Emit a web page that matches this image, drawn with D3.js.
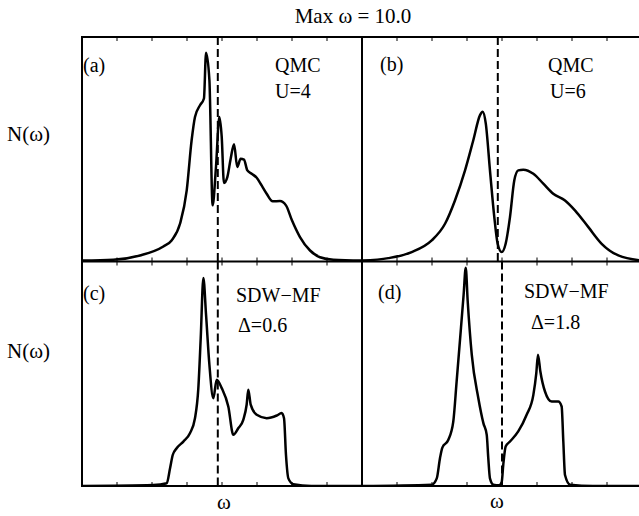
<!DOCTYPE html>
<html><head><meta charset="utf-8">
<script src="https://cdn.jsdelivr.net/npm/d3@7"></script>
<style>body{margin:0;background:#fff}</style>
</head><body><svg id="c" width="639" height="516"></svg>
<script>
// ---- data (ω in units, N normalised to panel height) ----
const wA=[-10,-7.76,-5.86,-4.19,-3.6,-3.0,-2.52,-2.17,-1.93,-1.57,-1.29,-1.14,-0.9,-0.67,-0.43,-0.19,-0.02,0.14,0.38,0.62,0.86,1.09,1.33,1.57,1.81,2.12,2.48,2.83,3.19,3.62,4.14,4.57,4.98,5.57,6.29,7.0,7.95,10];
const nA=[0.004,0.008,0.027,0.067,0.094,0.168,0.317,0.54,0.644,0.696,0.726,0.93,0.808,0.25,0.421,0.644,0.555,0.35,0.376,0.458,0.522,0.421,0.458,0.454,0.406,0.391,0.373,0.339,0.302,0.268,0.269,0.25,0.186,0.109,0.049,0.019,0.008,0.004];
const wB=[-10,-8.12,-6.45,-5.02,-4.07,-3.36,-2.64,-2.05,-1.57,-1.38,-1.16,-0.86,-0.55,-0.31,-0.02,0.26,0.57,0.88,1.16,1.52,2.24,2.95,3.66,4.5,5.21,6.17,7.12,8.31,10];
const nB=[0.004,0.015,0.042,0.094,0.168,0.272,0.406,0.54,0.652,0.667,0.615,0.406,0.198,0.079,0.042,0.079,0.198,0.362,0.406,0.409,0.391,0.347,0.302,0.272,0.228,0.153,0.079,0.027,0.004];
const wC=[-10,-4.91,-3.95,-3.71,-3.52,-3.24,-2.76,-2.29,-1.93,-1.69,-1.52,-1.33,-1.14,-0.9,-0.62,-0.38,-0.02,0.45,0.81,1.16,1.52,1.76,1.88,2.05,2.48,3.19,3.91,4.26,4.43,4.57,4.74,5.09,6.38,10];
const nC=[0,0.004,0.012,0.079,0.138,0.168,0.198,0.235,0.302,0.436,0.659,0.927,0.763,0.54,0.391,0.473,0.436,0.354,0.228,0.257,0.295,0.362,0.429,0.362,0.317,0.302,0.314,0.325,0.302,0.138,0.034,0.008,0,0];
const wD=[-10,-5.02,-4.66,-4.43,-4.26,-3.84,-3.48,-3.24,-2.93,-2.74,-2.59,-2.45,-2.16,-1.69,-1.33,-1.09,-0.98,-0.86,-0.62,-0.21,-0.02,0.09,0.26,0.57,1.16,1.76,2.24,2.45,2.57,2.74,3.07,3.55,4.02,4.26,4.38,4.5,4.86,6.5,10];
const nD=[0,0.006,0.034,0.124,0.171,0.205,0.287,0.466,0.704,0.853,0.972,0.823,0.585,0.391,0.28,0.228,0.124,0.034,0.006,0.003,0.018,0.094,0.176,0.198,0.243,0.317,0.406,0.503,0.585,0.51,0.421,0.376,0.376,0.354,0.198,0.049,0.006,0,0];
const panelTags=["(a)","(b)","(c)","(d)"];
const methodLabels=["QMC","QMC","SDW\u2212MF","SDW\u2212MF"];
const paramLabels=["U=4","U=6","\u0394=0.6","\u0394=1.8"];
const muValues=[-0.3,-0.3,-0.3,0.0];
const tickValues=[-7.5,-5,-2.5,0,2.5,5,7.5];
const titleText="Max \u03c9 = 10.0";

// ---- layout ----
const FONT="'Liberation Serif','DejaVu Serif',serif";
const svg=d3.select("#c");
const L=82, T=37, PW=280, PH=224.5;
const series=[[wA,nA],[wB,nB],[wC,nC],[wD,nD]];
svg.append("defs").append("clipPath").attr("id","clip").append("rect")
  .attr("x",L).attr("y",T).attr("width",2*PW).attr("height",2*PH);

function txt(x,y,s,size,anchor){
  return svg.append("text").attr("x",x).attr("y",y).attr("font-family",FONT)
    .attr("font-size",size).attr("text-anchor",anchor||"start").attr("fill","#000").text(s);
}

series.forEach(([w,n],i)=>{
  const col=i%2,row=Math.floor(i/2);
  const x0=L+col*PW,y0=T+row*PH;
  const x=d3.scaleLinear().domain([-10,10]).range([x0,x0+PW]);
  const y=d3.scaleLinear().domain([0,1]).range([y0+PH,y0]);
  const g=svg.append("g");
  g.selectAll(".tb").data(tickValues).join("line")
    .attr("x1",d=>x(d)).attr("x2",d=>x(d)).attr("y1",y0+PH).attr("y2",y0+PH-4)
    .attr("stroke","#000").attr("stroke-width",1);
  g.selectAll(".tt").data(tickValues).join("line")
    .attr("x1",d=>x(d)).attr("x2",d=>x(d)).attr("y1",y0).attr("y2",y0+4)
    .attr("stroke","#000").attr("stroke-width",1);
  g.append("line").attr("x1",x(muValues[i])).attr("x2",x(muValues[i]))
    .attr("y1",y(1)).attr("y2",y(0)).attr("stroke","#000").attr("stroke-width",2)
    .attr("stroke-dasharray","8,4");
  const pts=w.map((v,k)=>[v,n[k]]);
  g.append("path").datum(pts).attr("clip-path","url(#clip)")
    .attr("d",d3.line().x(d=>x(d[0])).y(d=>y(d[1])).curve(d3.curveMonotoneX))
    .attr("fill","none").attr("stroke","#000").attr("stroke-width",2.5).attr("stroke-linejoin","round");
});

// panel labels
const tagX=[83,380,83,378], tagY=[72,71,300,299];
const mX=[275,548,236,524], mY=[72,72,302,298];
const pX=[275,550,238,531], pY=[98,98,332,329];
panelTags.forEach((t,i)=>{
  txt(tagX[i],tagY[i],t,20);
  txt(mX[i],mY[i],methodLabels[i],20);
  txt(pX[i],pY[i],paramLabels[i],20);
});

// frame
svg.append("rect").attr("x",L).attr("y",T).attr("width",2*PW).attr("height",2*PH)
  .attr("fill","none").attr("stroke","#000").attr("stroke-width",2);
svg.append("line").attr("x1",L+PW).attr("x2",L+PW).attr("y1",T).attr("y2",T+2*PH).attr("stroke","#000").attr("stroke-width",2);
svg.append("line").attr("x1",L).attr("x2",L+2*PW).attr("y1",T+PH).attr("y2",T+PH).attr("stroke","#000").attr("stroke-width",2);

// axis titles
txt(353,23,titleText,21,"middle");
txt(7,141,"N(\u03c9)",21);
txt(7,358,"N(\u03c9)",21);
txt(224,509,"\u03c9",21,"middle");
txt(497,508,"\u03c9",21,"middle");
</script></body></html>
